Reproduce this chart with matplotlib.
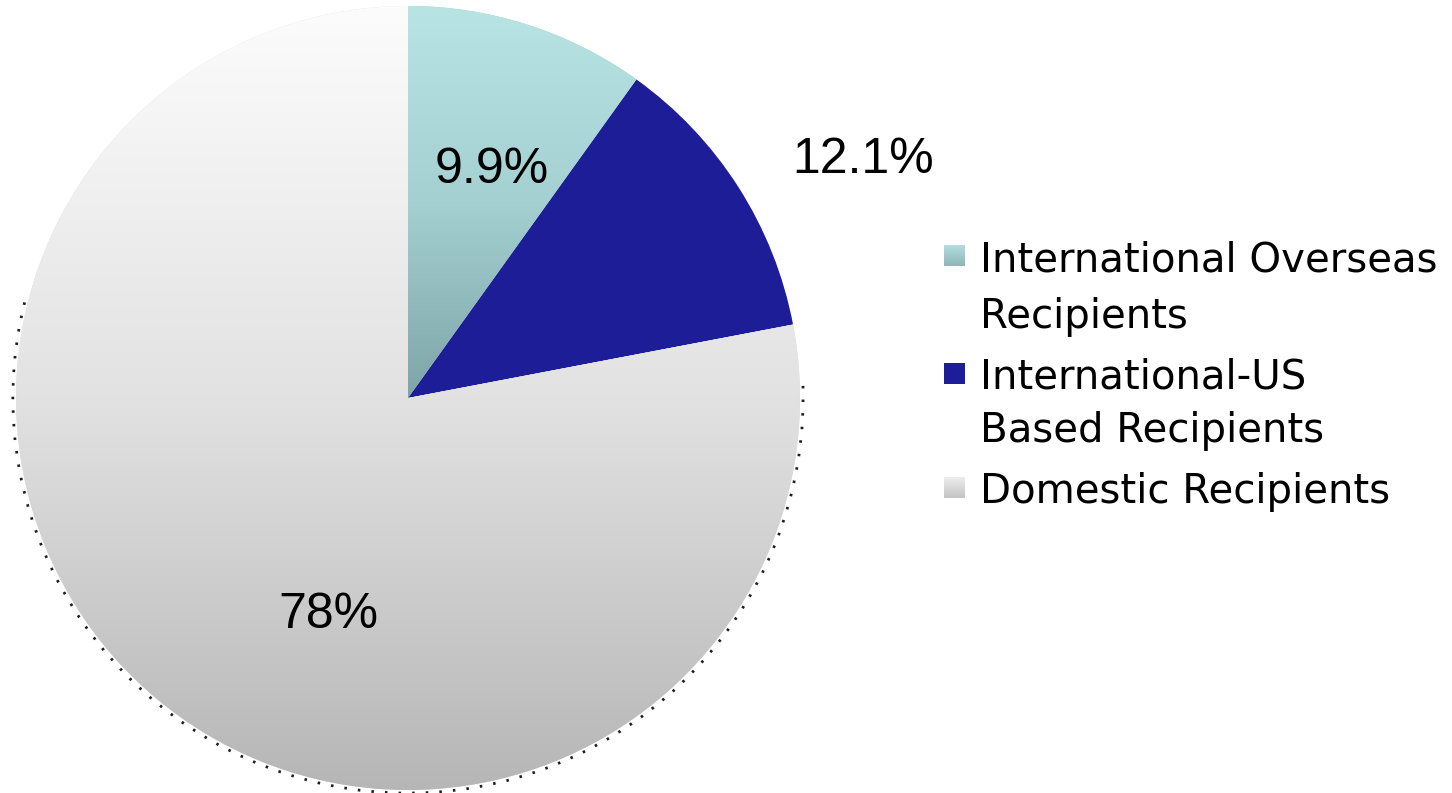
import numpy as np
import matplotlib
matplotlib.use("Agg")
import matplotlib.pyplot as plt
from matplotlib.patches import Arc
from matplotlib.colors import to_rgb

# ---- data -------------------------------------------------------------
categories = ["International Overseas\nRecipients",
              "International-US\nBased Recipients",
              "Domestic Recipients"]
shares = [9.9, 12.1, 78.0]
pct_labels = ["9.9%", "12.1%", "78%"]

# ---- styling ----------------------------------------------------------
base_colors = ["#9cc9cb", "#1d1d98", "#dcdcdc"]
# vertical gradient stops (top -> bottom) for the shaded slices
gradients = {
    0: ["#b8e4e4", "#a4d0d2", "#7ea5a8"],
    2: ["#fcfcfc", "#e2e2e2", "#b6b6b6"],
}
# label anchor points (axes data units, baseline-aligned)
label_pos = [(0.214, 0.548), (1.161, 0.574), (-0.204, -0.587)]

W, H, DPI = 1452, 793, 100
fig = plt.figure(figsize=(W / DPI, H / DPI), dpi=DPI)
fig.patch.set_facecolor("white")

cx, cy, r = 408, 398, 392  # pie centre / radius in pixels
ax = fig.add_axes([(cx - r) / W, (H - cy - r) / H, 2 * r / W, 2 * r / H])

wedges, _ = ax.pie(shares, colors=base_colors, startangle=90,
                   counterclock=False, radius=1.0,
                   wedgeprops=dict(linewidth=0, antialiased=True))


def gradient_image(stops, n=256):
    cols = np.array([to_rgb(c) for c in stops])
    t = np.linspace(0, 1, n)
    pos = np.linspace(0, 1, len(stops))
    arr = np.stack([np.interp(t, pos, cols[:, k]) for k in range(3)], axis=-1)
    return arr[::-1, None, :]  # bottom row first for origin='lower'


for idx, stops in gradients.items():
    w = wedges[idx]
    extent = (-1, 1, 0, 1) if idx == 0 else (-1, 1, -1, 1)
    img = ax.imshow(gradient_image(stops), extent=extent, origin="lower",
                    aspect="auto", interpolation="bilinear",
                    zorder=w.get_zorder() + 0.1)
    img.set_clip_path(w)

# dotted rim along the lower edge of the pie
rim = Arc((0, 0), 2.016, 2.016, theta1=166, theta2=363, linewidth=2.0,
          linestyle=(0, (0.9, 4.0)), color="#1e1e1e", clip_on=False, zorder=5)
ax.add_patch(rim)

ax.set_xlim(-1, 1)
ax.set_ylim(-1, 1)
ax.set_aspect("equal")
ax.axis("off")

for text, (x, y) in zip(pct_labels, label_pos):
    ax.text(x, y, text, ha="center", va="baseline", fontsize=36,
            family="Liberation Sans", color="black", zorder=10)

# ---- legend -----------------------------------------------------------
marker_x = 944
text_x = 980
entry_baselines = [[271, 328], [389, 442], [503]]
marker_colors = [["#b3dcdd", "#8fb7ba"], ["#1d1d98", "#1d1d98"], ["#ececec", "#c4c4c4"]]
msize = 21

for label, baselines, mcols in zip(categories, entry_baselines, marker_colors):
    for line, b in zip(label.split("\n"), baselines):
        fig.text(text_x / W, (H - b) / H, line, ha="left", va="baseline",
                 fontsize=29, family="DejaVu Sans", color="black")
    top = baselines[0] - 26
    sw = gradient_image(mcols, n=msize)[::-1]  # top row first
    sw = np.repeat(sw, msize, axis=1)
    fig.figimage(sw, xo=marker_x, yo=H - top - msize, origin="upper", zorder=3)

fig.savefig("out.png", dpi=DPI, facecolor="white")
